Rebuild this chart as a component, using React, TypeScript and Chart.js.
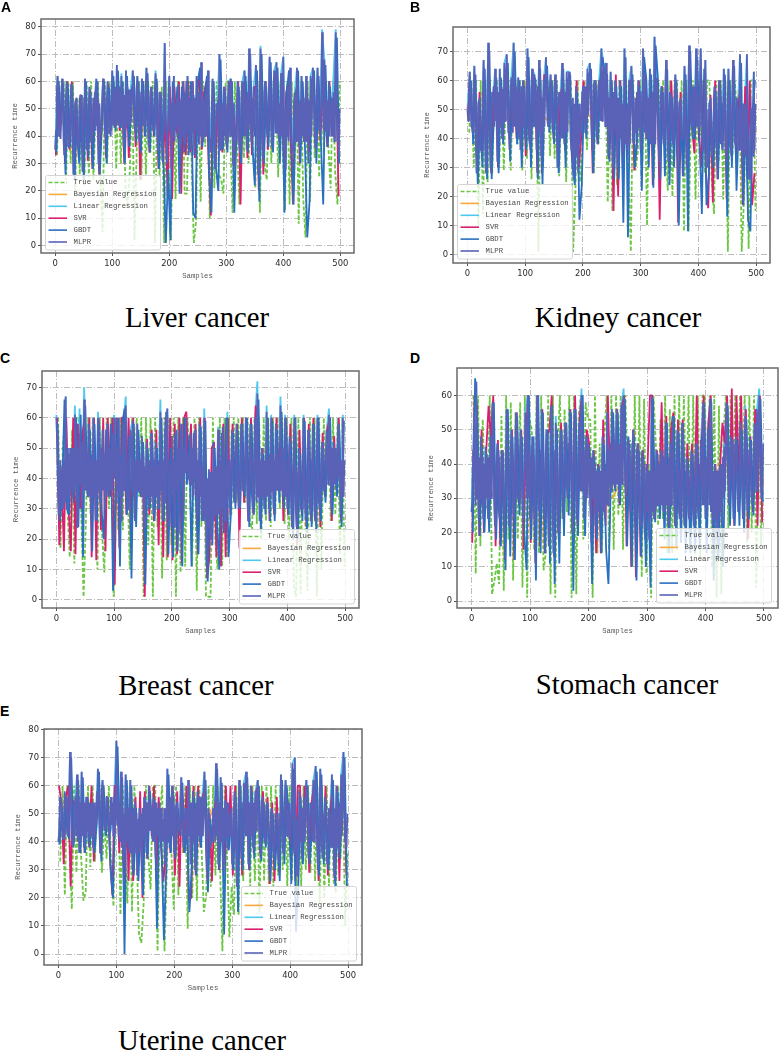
import React, { useEffect, useRef } from "react";
import { Chart, registerables } from "chart.js";

Chart.register(...registerables);

const seriesNames = ["True value", "Bayesian Regression", "Linear Regression", "SVR", "GBDT", "MLPR"];
const seriesColors = ["#6cc644", "#f7a93b", "#4fc8f0", "#db1f6f", "#2a6fc0", "#5a62b8"];
const xTicks = [0, 100, 200, 300, 400, 500];

// ---------- Liver cancer ----------
const liverTrue = [33,60,44,60,24,60,30,60,20,54,26,55,22,60,25,60,24,50,60,27,5,60,30,60,42,
60,28,60,30,60,22,14,28,60,2,36,60,24,60,26,60,34,60,1,60,25,58,1,60,26,
2,60,17,60,40,60,19,19,60,32,1,9,60,16,60,36,60,10,60,21,60,26,24,19,60,
60,40,12,60,38,15,60,32,60,30,60,34,21,60,12,60,30,24,60,30,60,60,25,60,34,
13,60,15,60,22,60,8,60,17,3,60,16,60,32,60,25,60,34,60,36,21,60,27,15,60];
const liverBayes = [44,50,42,52,44,52,46,50,44,52,44,48,46,50,44,52,44,50,44,48,44,50,44,52,44,46];
const liverLinear = [35,62,42,61,33,60,38,59,26,52,36,55,27,61,35,58,38,52,61,30,45,61,40,60,44,
64,43,66,44,63,36,64,44,57,64,42,62,38,61,44,65,36,58,42,64,34,56,31,74,30,
62,28,62,44,59,36,60,37,62,35,60,33,62,37,67,38,55,64,34,61,28,50,70,36,58,
37,60,61,30,44,60,34,60,64,35,72,38,58,66,26,73,32,60,40,69,36,64,67,40,63,
69,28,58,65,34,56,65,36,62,38,62,30,62,65,36,65,42,79,68,40,60,44,62,79,42];
const liverSvr = [33,59,42,59,30,60,35,60,26,50,32,53,30,58,31,57,28,52,60,26,44,60,32,59,43,
60,44,60,42,58,30,60,32,55,60,36,60,24,60,40,60,34,56,40,60,28,55,30,48,18,
58,17,58,41,60,19,60,33,60,34,60,32,57,62,35,56,60,30,11,58,28,50,60,34,58,
35,60,58,28,42,60,15,58,60,32,60,33,58,58,20,60,26,60,35,60,35,60,60,38,58,
30,56,60,38,15,54,60,30,60,38,58,34,60,60,36,60,38,58,60,36,60,40,54,60,18];
const liverGbdt = [34,60,45,59,26,59,36,58,24,50,30,52,24,60,32,56,28,50,60,26,44,60,30,58,42,
62,42,64,43,60,30,62,36,56,62,38,60,34,60,40,63,34,56,40,61,28,54,30,1,28,
2,60,42,58,19,58,34,60,33,60,12,10,60,65,36,54,62,26,12,60,28,20,68,35,56,
34,58,60,12,42,58,30,58,62,34,70,36,22,64,16,70,30,58,36,67,34,62,65,30,61,
12,56,64,40,15,54,64,30,60,36,3,16,60,64,30,62,38,15,66,36,58,40,54,76,30];
const liverMlpr = [35,62,42,61,33,60,38,59,26,52,36,55,27,61,35,58,38,52,61,30,45,61,40,60,44,
64,43,66,44,62,36,64,44,57,64,42,62,38,61,44,65,36,58,42,63,34,56,31,74,30,
62,28,62,44,59,36,60,37,62,35,60,33,62,37,67,38,55,64,34,61,28,50,70,36,58,
37,60,61,30,44,60,34,60,64,35,72,38,58,66,26,72,32,60,40,69,36,64,67,40,63,
69,28,58,65,34,56,65,36,62,38,62,30,62,65,36,65,42,78,68,40,60,44,56,78,42];
const liverMlprMid = [42,56,58,40,39,53,55,38,37,54,52,36,36,50,52,37,38,52,54,36,37,53,55,38,38,54,52,36,39,50,52,38,40,54,56,42,44,54,52,42,41,55,56,43,42,54,52,41,40,54,
44,56,58,44,45,57,58,44,43,56,55,43,44,58,57,44,45,56,55,44,43,57,56,45,44,56,55,44,45,57,56,43,44,55,56,45,44,57,55,44,43,56,55,42,41,54,52,41,40,54,
42,52,54,40,38,52,54,39,40,53,54,40,38,56,55,41,42,54,53,40,41,55,54,42,41,56,54,40,38,53,54,40,40,54,56,41,39,52,54,38,36,52,53,36,35,50,52,38,40,52,
38,50,52,40,40,53,52,36,38,52,53,37,38,55,54,40,40,54,56,42,44,56,54,42,40,53,54,38,38,54,55,41,42,56,58,44,44,56,58,44,44,55,54,41,41,54,52,40,40,53,
36,50,52,40,38,54,52,38,36,52,54,38,38,52,53,38,40,54,52,38,38,54,53,40,40,54,55,42,43,55,54,42,43,55,54,42,42,54,53,42,40,52,54,40,38,52,54,38,34,50];

// ---------- Kidney cancer ----------
const kidneyTrue = [42,60,30,60,10,60,14,60,25,60,28,60,60,30,60,29,60,60,29,60,60,38,60,29,60,
33,60,26,60,60,1,60,30,60,60,34,60,33,60,27,60,60,25,60,60,1,22,60,25,37,
60,36,60,60,28,60,38,60,60,60,18,60,15,60,24,60,40,60,60,26,1,60,29,35,60,
32,60,10,60,60,26,60,60,34,60,40,22,60,20,60,60,30,60,8,60,8,44,60,19,60,
41,60,28,60,60,26,14,60,32,60,19,60,1,60,34,60,48,60,1,19,60,2,60,60,15];
const kidneyBayes = [50,44,54,44,52,44,50,46,52,44,50,46,52,44,50,44,52,46,52,44,52,44,50,44,50,42];
const kidneyLinear = [50,63,44,65,28,52,36,67,28,73,30,53,64,32,64,40,66,69,42,61,73,44,61,36,60,
40,71,38,64,62,36,67,34,60,68,44,62,42,62,30,52,66,38,63,63,36,26,58,28,47,
58,42,64,66,36,60,40,60,71,65,66,34,63,30,60,30,60,36,71,36,60,65,38,42,60,
36,71,62,40,64,38,75,61,32,58,38,67,32,55,38,62,34,52,40,65,30,72,44,42,71,
45,71,36,67,30,52,34,58,36,60,42,64,32,64,36,67,38,48,69,30,52,69,26,50,63];
const kidneySvr = [50,58,42,56,30,56,34,60,30,60,28,55,60,30,60,42,58,60,36,60,60,40,60,36,60,
34,60,36,60,60,28,60,28,62,60,44,60,40,58,30,54,60,36,60,60,34,28,60,30,40,
60,44,60,60,28,60,38,60,60,60,60,33,60,15,62,20,60,30,60,34,60,60,29,37,60,
35,60,60,40,62,24,60,60,12,58,38,60,30,60,40,60,11,56,27,60,30,60,44,35,60,
40,30,60,28,16,55,18,60,26,60,38,60,19,60,34,60,34,50,60,17,58,26,60,17,28];
const kidneyGbdt = [48,60,38,62,24,50,30,64,26,70,26,50,61,28,61,38,63,66,32,60,70,38,60,30,58,
36,68,30,62,60,26,64,24,60,65,42,60,38,60,28,50,64,30,60,62,30,24,56,12,24,
56,40,62,64,28,60,38,60,68,62,62,32,60,26,58,26,58,11,68,6,58,62,30,40,58,
22,68,60,30,62,23,72,60,26,56,27,64,24,54,30,60,10,50,27,62,8,70,40,40,68,
40,14,64,17,27,50,30,56,26,58,36,62,13,60,30,65,22,46,66,17,50,12,8,50,60];
const kidneyMlpr = [50,63,44,65,28,52,36,67,28,73,30,53,64,32,64,40,66,69,42,61,73,44,61,36,60,
40,71,38,64,62,36,67,34,60,68,44,62,42,62,30,52,66,38,63,63,36,26,58,28,47,
58,42,64,66,36,60,40,60,71,65,66,34,63,30,60,30,60,36,71,36,60,65,38,42,60,
36,71,62,40,64,38,75,61,32,58,38,67,32,55,38,62,34,52,40,65,30,72,44,42,71,
45,71,36,67,30,52,34,58,36,60,42,64,32,64,36,67,38,48,69,30,52,69,26,50,63];
const kidneyMlprMid = [46,58,56,44,42,56,54,38,36,52,54,36,36,54,56,38,38,54,56,42,42,56,58,44,46,58,56,44,44,58,57,46,46,56,58,42,42,56,54,42,44,58,56,42,40,56,58,44,44,58,
40,54,56,40,42,56,58,44,44,56,58,42,42,56,54,42,44,58,56,46,46,58,56,46,46,58,57,46,46,56,54,40,40,54,56,42,42,56,54,40,38,54,52,34,34,50,52,38,42,56,
46,58,58,46,48,58,58,48,50,58,58,48,48,58,58,46,46,58,56,44,44,56,54,42,42,54,56,44,42,54,54,40,40,52,52,38,38,50,52,38,38,52,54,40,42,54,56,44,44,56,
42,56,56,42,40,54,54,40,38,54,56,40,38,52,52,40,40,54,56,42,40,54,54,42,44,56,54,40,40,54,56,42,40,52,54,40,40,52,50,38,40,54,58,46,46,58,58,46,44,56,
44,58,56,40,38,52,50,36,38,52,54,40,40,54,52,38,40,54,52,38,36,52,54,40,38,50,52,38,38,52,54,40,40,54,50,36,36,50,52,36,34,50,48,32,36,50,50,34,36,52];

// ---------- Breast cancer ----------
const breastTrue = [60,17,50,60,30,14,56,12,60,60,28,1,26,60,28,60,39,10,60,22,9,60,30,60,1,
60,23,60,23,60,40,10,60,27,60,34,60,1,60,18,60,1,60,24,60,7,60,13,60,18,
60,1,60,9,60,11,60,40,11,60,3,60,24,60,1,1,1,60,20,10,60,11,60,14,60,
28,60,32,60,36,60,32,60,26,23,60,25,60,20,60,26,60,24,60,28,60,30,60,25,60,
20,60,5,1,60,2,60,26,3,60,25,60,1,60,10,60,34,60,26,60,28,60,15,60,11];
const breastBayes = [46,36,46,36,46,38,44,38,46,36,44,38,42,36,44,38,42,36,44,36,42,36,44,38,42,38];
const breastLinear = [61,28,40,30,67,30,50,34,64,24,63,30,70,36,58,28,60,26,62,32,56,30,58,36,55,
61,32,60,26,58,67,30,56,59,26,58,35,54,24,52,30,55,28,52,30,66,26,56,63,24,
54,24,56,22,58,26,60,40,55,34,56,28,58,26,63,12,43,20,52,28,57,24,57,26,62,
30,56,32,58,30,58,36,60,26,58,30,60,72,26,50,30,64,30,61,30,58,36,67,34,61,
30,54,24,61,24,50,30,61,26,56,28,58,26,61,30,52,36,56,63,30,52,38,60,28,61];
const breastSvr = [60,18,40,16,60,30,16,60,15,58,30,55,60,36,60,14,60,13,59,23,60,16,60,34,60,
5,60,17,60,60,28,60,17,60,28,55,38,52,1,53,28,56,26,56,18,60,14,60,14,60,
13,58,15,60,12,60,62,40,58,34,58,15,60,28,60,7,14,50,52,14,56,11,58,14,60,
28,58,36,58,17,60,32,60,34,60,28,64,60,30,50,30,60,26,60,28,60,40,60,26,60,
28,58,28,60,18,56,28,60,24,58,26,60,28,60,24,55,34,56,60,26,54,36,60,26,51];
const breastGbdt = [58,26,36,66,30,28,50,32,60,24,61,14,64,34,56,16,58,26,58,30,20,56,34,58,3,
30,60,11,58,63,28,54,7,58,24,56,34,52,5,50,30,53,26,50,30,60,26,62,15,50,
14,55,16,56,11,60,38,54,11,55,30,15,57,26,59,6,42,18,50,26,10,55,22,60,14,
28,55,30,56,30,58,34,60,24,58,28,58,66,22,48,28,60,26,59,26,56,32,62,30,59,
28,52,20,60,20,48,26,59,22,54,24,58,22,60,26,50,32,54,60,28,50,34,56,24,59];
const breastMlpr = [60,28,40,30,67,30,50,34,61,24,55,30,66,36,58,28,60,26,60,32,56,30,58,36,55,
60,32,60,26,58,64,30,56,59,26,58,35,54,24,52,30,55,28,52,30,62,26,56,63,24,
54,24,56,22,58,26,60,40,55,34,56,28,58,26,60,12,43,20,52,28,56,24,57,26,60,
30,56,32,58,30,58,36,60,26,58,30,60,68,26,50,30,62,30,60,30,58,36,64,34,60,
30,54,24,60,24,50,30,60,26,56,28,58,26,60,30,52,36,56,61,30,52,38,58,28,60];
const breastMlprMid = [52,36,34,46,30,44,46,32,34,50,48,34,36,50,50,36,38,52,50,38,38,52,50,36,36,50,46,34,34,46,48,34,34,46,46,34,36,48,50,36,36,48,46,34,36,50,50,36,36,50,
40,52,50,36,34,48,46,34,36,50,50,38,38,50,50,36,34,46,44,36,36,46,46,34,36,48,44,34,34,46,46,32,34,44,46,34,34,44,46,36,36,50,46,32,32,46,46,34,34,44,
36,46,46,36,36,50,50,40,40,50,50,42,42,48,48,38,38,50,50,40,40,50,46,36,34,44,42,28,26,40,40,24,24,42,42,26,26,44,44,28,28,44,46,30,30,46,44,32,34,46,
36,46,46,36,36,46,48,34,36,48,46,36,36,46,46,34,34,44,46,34,34,46,48,32,34,46,46,34,34,46,46,34,34,46,48,34,36,48,46,36,36,48,46,36,36,50,46,34,34,46,
34,46,44,30,30,44,44,30,30,42,44,30,30,44,44,30,32,44,44,32,32,46,44,30,32,42,40,32,34,44,46,36,38,48,48,38,40,50,50,38,38,50,48,40,40,50,46,34,34,46];

// ---------- Stomach cancer ----------
const stomachTrue = [60,8,60,16,53,28,27,60,2,6,11,5,54,3,60,18,58,6,55,18,58,4,60,1,53,
50,15,60,14,60,9,14,60,2,60,1,45,60,24,56,26,60,1,60,2,54,60,18,58,53,
53,1,60,14,46,14,48,60,15,60,15,60,25,60,15,60,36,47,10,60,14,60,7,59,8,
40,1,60,46,22,53,24,60,14,56,14,60,15,60,20,60,24,60,15,60,14,60,12,60,60,
22,60,10,60,1,57,2,50,60,21,60,35,60,32,60,35,60,17,60,20,60,4,60,16,42];
const stomachBayes = [32,36,30,38,30,34,32,38,30,38,36,34,30,36,32,30,36,34,30,36,34,38,40,34,38,34];
const stomachLinear = [26,54,64,24,48,24,45,24,48,58,22,46,24,44,20,56,22,50,24,55,30,50,24,55,60,
24,48,22,60,26,56,24,50,16,57,14,54,20,50,26,52,30,56,20,56,24,52,62,24,48,
46,22,44,22,40,28,48,24,55,34,56,34,56,30,57,62,30,48,26,50,24,46,22,44,20,
38,18,60,24,44,28,44,26,52,22,46,54,22,50,24,52,22,42,24,44,22,46,24,47,58,
24,50,59,22,40,18,39,22,45,58,28,48,24,48,26,55,24,57,26,48,28,52,56,62,30];
const stomachSvr = [17,60,57,19,50,20,44,57,48,60,16,47,16,44,12,54,22,50,12,55,28,50,15,50,60,
17,46,11,60,16,56,14,48,50,60,13,50,18,52,24,52,30,56,22,60,22,54,60,26,50,
46,17,44,14,40,14,53,22,60,34,55,33,56,28,57,60,16,46,10,50,7,46,13,44,18,
40,60,60,26,44,30,58,26,54,23,50,55,22,53,26,53,24,46,27,46,26,60,26,44,60,
24,52,60,20,40,24,40,52,46,60,28,62,22,60,36,60,26,56,18,48,26,56,22,60,23];
const stomachGbdt = [20,65,52,19,45,20,43,20,46,58,18,44,16,43,9,56,13,48,12,54,25,48,20,9,60,
18,48,6,60,14,55,14,50,11,57,5,50,11,50,19,52,25,55,3,56,19,52,60,19,46,
44,5,42,18,39,14,46,15,5,34,55,32,55,28,56,59,16,46,10,48,6,44,13,42,10,
36,4,59,23,43,24,43,18,52,14,45,54,16,49,17,50,14,41,14,43,14,45,15,46,57,
14,49,58,6,38,12,38,10,44,57,22,47,22,47,22,50,20,53,24,47,25,50,54,59,29];
const stomachMlpr = [26,54,64,24,48,24,45,24,48,58,22,46,24,44,20,56,22,50,24,55,30,50,24,55,60,
24,48,22,60,26,56,24,50,16,57,14,52,20,50,26,52,30,56,20,56,24,52,60,24,48,
46,22,44,22,40,28,48,24,55,34,56,34,56,30,57,60,30,48,26,50,24,46,22,44,20,
38,18,60,24,44,28,44,26,52,22,46,54,22,50,24,52,22,42,24,44,22,46,24,47,58,
24,50,59,22,40,18,39,22,45,58,28,48,24,48,26,52,24,54,26,48,28,52,56,60,30];
const stomachMlprMid = [30,44,42,28,30,44,42,30,28,42,40,28,30,42,42,30,30,40,42,28,28,40,42,26,28,42,42,30,30,42,40,30,30,42,42,30,30,44,42,30,30,42,42,30,28,42,44,30,30,44,
30,42,42,28,28,42,42,28,28,44,42,28,26,42,40,26,26,42,40,26,28,44,42,30,30,44,42,32,32,46,44,34,34,46,44,34,34,46,44,32,32,44,44,32,32,44,42,30,30,42,
30,42,42,30,28,40,38,26,26,38,38,24,26,38,40,28,28,44,46,32,34,46,46,34,34,46,46,34,34,46,46,34,34,46,44,32,32,46,44,32,32,44,42,30,28,42,40,28,26,40,
26,38,38,24,26,38,38,26,28,40,40,28,28,42,42,26,28,40,42,28,28,40,38,26,26,40,38,26,26,38,38,26,26,38,38,26,26,38,38,26,26,40,40,28,28,40,40,28,28,42,
28,42,42,28,26,40,38,24,26,38,38,24,26,40,42,30,32,44,46,34,34,46,46,34,34,46,44,34,34,46,44,32,32,44,46,32,32,44,44,32,32,44,44,32,32,46,46,34,34,46];

// ---------- Uterine cancer ----------
const uterineTrue = [33,60,21,60,38,16,60,29,60,35,19,22,60,31,60,33,60,60,29,47,34,60,30,17,60,
60,14,60,36,18,60,15,60,36,7,4,18,60,35,23,60,60,1,50,60,1,30,60,36,16,
60,21,60,36,60,9,60,20,60,19,60,38,15,21,60,24,60,28,60,30,1,60,36,6,24,
14,60,14,60,26,60,60,24,60,26,60,15,60,26,60,25,60,24,60,28,60,30,60,24,60,
26,60,22,60,24,60,30,60,29,60,26,60,18,60,20,60,24,60,26,22,60,34,60,10,36];
const uterineBayes = [46,52,46,54,44,50,46,48,44,52,44,50,44,52,44,52,46,50,44,52,48,44,52,44,50,44];
const uterineLinear = [40,54,41,56,42,72,39,52,64,36,65,38,56,40,54,38,48,66,36,62,44,56,42,46,56,
76,42,65,32,64,40,62,30,54,28,52,30,56,36,60,44,56,34,52,40,48,32,66,38,60,
36,54,44,63,38,48,62,32,58,30,58,40,56,65,30,50,42,46,68,32,63,30,55,38,50,
32,58,24,62,34,61,65,32,60,38,58,62,36,56,40,54,30,52,34,50,32,64,36,62,50,
40,68,70,28,58,34,56,62,34,50,62,67,30,66,34,56,32,48,64,28,60,36,64,72,42];
const uterineSvr = [60,54,32,56,60,24,55,52,60,36,60,36,56,38,60,33,50,60,38,60,44,56,34,21,60,
60,36,60,24,60,26,60,26,56,28,58,20,58,34,60,42,60,26,56,38,26,34,60,36,60,
28,58,24,60,36,60,19,20,60,28,60,38,56,60,26,50,26,50,60,30,60,28,60,37,60,
28,60,24,60,28,60,60,30,60,36,58,60,34,58,40,56,25,54,26,56,29,60,36,60,50,
34,60,26,60,60,36,60,53,29,54,60,54,26,60,34,60,28,50,60,26,60,26,60,60,28];
const uterineGbdt = [39,52,41,55,41,70,38,50,62,36,63,36,54,38,52,36,46,65,33,60,42,54,30,20,54,
74,40,63,0,62,38,60,28,52,26,50,21,55,34,58,42,55,9,50,38,5,30,64,36,58,
34,52,42,61,36,46,15,30,56,28,56,38,54,62,22,48,40,44,66,30,61,7,54,37,48,
30,56,15,60,30,60,63,30,58,34,56,60,33,54,38,52,26,50,30,48,26,62,32,60,48,
25,66,8,24,56,32,54,60,32,48,60,65,28,64,32,54,30,46,62,24,58,34,62,70,24];
const uterineMlpr = [40,54,41,56,42,72,39,52,64,36,65,38,56,40,54,38,48,66,36,62,44,56,42,46,56,
76,42,65,32,64,40,62,30,54,28,52,30,56,36,60,44,56,34,52,40,48,32,66,38,60,
36,54,44,63,38,48,62,32,58,30,58,40,56,65,30,50,42,46,68,32,63,30,55,38,50,
32,58,24,62,34,61,65,32,60,38,58,62,36,56,40,54,30,52,34,50,32,64,36,62,50,
40,68,70,28,58,34,56,62,34,50,62,67,30,66,34,56,32,48,64,28,60,36,64,72,42];
const uterineMlprMid = [44,56,54,44,46,58,56,44,42,54,56,42,40,54,56,42,40,56,54,40,42,54,54,42,44,56,54,42,42,54,54,44,46,58,56,46,46,58,56,46,46,56,54,44,44,56,54,42,42,54,
46,58,54,40,38,52,50,36,38,52,50,36,36,50,52,36,38,50,48,36,38,50,52,40,42,54,54,44,44,54,52,40,40,54,54,42,42,54,52,40,40,52,52,38,40,54,56,42,42,56,
40,52,54,44,44,54,54,42,42,52,52,40,42,54,54,40,40,52,54,42,42,54,56,42,42,54,50,38,40,52,50,38,40,52,52,40,42,54,54,40,40,52,52,40,42,54,54,42,42,52,
38,50,52,38,38,50,52,40,42,54,54,42,42,54,54,42,42,54,54,44,44,56,54,42,42,54,54,42,40,52,52,40,40,50,50,38,38,50,50,38,38,50,52,40,42,54,54,42,42,54,
40,52,50,36,36,48,50,38,40,52,52,40,40,52,52,40,42,54,54,40,40,52,52,38,38,50,50,38,38,50,52,40,40,52,50,38,38,50,52,38,38,52,54,40,42,54,54,40,38,50];

const panels = [
  { letter: "A", letterX: 1, letterY: 12, title: "Liver cancer", titleX: 197, titleY: 327,
    box: [41, 19, 354, 253], yRange: [-2.7, 82.8], yTicks: [0,10,20,30,40,50,60,70,80],
    labelX: 16, labelY: 275, showX: true, legend: [45, 175], mid: liverMlprMid,
    values: [liverTrue, liverBayes, liverLinear, liverSvr, liverGbdt, liverMlpr] },
  { letter: "B", letterX: 410, letterY: 12, title: "Kidney cancer", titleX: 618, titleY: 327,
    box: [453, 27, 770, 263], yRange: [-2.9, 78.4], yTicks: [0,10,20,30,40,50,60,70],
    labelX: 428, labelY: 285, showX: false, legend: [457, 184], mid: kidneyMlprMid,
    values: [kidneyTrue, kidneyBayes, kidneyLinear, kidneySvr, kidneyGbdt, kidneyMlpr] },
  { letter: "C", letterX: 0, letterY: 363, title: "Breast cancer", titleX: 196, titleY: 695,
    box: [42, 371, 359, 608], yRange: [-2.7, 75.4], yTicks: [0,10,20,30,40,50,60,70],
    labelX: 17, labelY: 630, showX: true, legend: [239, 529], mid: breastMlprMid,
    values: [breastTrue, breastBayes, breastLinear, breastSvr, breastGbdt, breastMlpr] },
  { letter: "D", letterX: 410, letterY: 363, title: "Stomach cancer", titleX: 627, titleY: 694,
    box: [457, 368, 778, 608], yRange: [-2, 68], yTicks: [0,10,20,30,40,50,60],
    labelX: 432, labelY: 630, showX: true, legend: [656, 528], mid: stomachMlprMid,
    values: [stomachTrue, stomachBayes, stomachLinear, stomachSvr, stomachGbdt, stomachMlpr] },
  { letter: "E", letterX: 0, letterY: 716, title: "Uterine cancer", titleX: 202, titleY: 1050,
    box: [44, 729, 362, 965], yRange: [-3.9, 80.2], yTicks: [0,10,20,30,40,50,60,70,80],
    labelX: 19, labelY: 987, showX: true, legend: [241, 886], mid: uterineMlprMid,
    values: [uterineTrue, uterineBayes, uterineLinear, uterineSvr, uterineGbdt, uterineMlpr] },
];

// Horizontal step and start of the samples held in each series array.
const sampleStep = [4, 20, 4, 4, 4, 4];
const sampleStart = [3, 0, 0, 1, 2, 0];
const drawOrder = [6, 5, 4, 3, 2, 1];
const seriesWidth = [1.8, 1.6, 1.8, 1.8, 1.8, 1.8];

function seriesPoints(vals: number[], s: number, mid: number[]) {
  const pts: { x: number; y: number }[] = [];
  vals.forEach((y, i) => {
    const x = sampleStart[s] + i * sampleStep[s];
    pts.push({ x, y });
    // MLPR also holds the two in-between samples of the dense middle band
    if (s === 5 && mid[2 * i] !== undefined) {
      pts.push({ x: x + 1.33, y: mid[2 * i] });
      pts.push({ x: x + 2.67, y: mid[2 * i + 1] });
    }
  });
  return pts;
}

const boxPlugin = {
  id: "panelFrame",
  afterDraw(chart: any, _args: any, opts: any) {
    const { ctx, chartArea: a } = chart;
    ctx.save();
    // legend
    const lx = opts.legend[0] - opts.originX;
    const ly = opts.legend[1] - opts.originY;
    const w = 115, h = 74.5;
    ctx.beginPath();
    ctx.roundRect(lx + 0.5, ly + 0.5, w, h, 2);
    ctx.fillStyle = "rgba(255,255,255,0.8)";
    ctx.fill();
    ctx.strokeStyle = "#d4d4d4";
    ctx.lineWidth = 1;
    ctx.stroke();
    ctx.font = '7.3px "Liberation Mono"';
    ctx.textBaseline = "middle";
    chart.data.datasets.forEach((d: any, i: number) => {
      const y = ly + 7.5 + i * 11.9;
      ctx.beginPath();
      ctx.setLineDash(d.borderDash || []);
      ctx.strokeStyle = d.borderColor;
      ctx.lineWidth = 1.6;
      ctx.moveTo(lx + 3.5, y);
      ctx.lineTo(lx + 22, y);
      ctx.stroke();
      ctx.setLineDash([]);
      ctx.fillStyle = "#4a4a4a";
      ctx.fillText(d.label, lx + 28.5, y);
    });
    // frame
    ctx.strokeStyle = "#6a6a6a";
    ctx.lineWidth = 1.5;
    ctx.strokeRect(a.left, a.top, a.right - a.left, a.bottom - a.top);
    ctx.restore();
  },
};

function Panel({ p }: { p: (typeof panels)[number] }) {
  const ref = useRef<HTMLCanvasElement | null>(null);
  const [L, T, R, B] = p.box;
  const originX = Math.floor(p.labelX - 4.4);
  const originY = T - 8;
  const width = R + 4 - originX;
  const height = p.labelY + 5 - originY;

  useEffect(() => {
    const chart = new Chart(ref.current as HTMLCanvasElement, {
      type: "line",
      data: {
        datasets: p.values.map((vals, s) => ({
          label: seriesNames[s],
          data: seriesPoints(vals, s, p.mid),
          borderColor: seriesColors[s],
          borderWidth: seriesWidth[s],
          borderDash: s === 0 ? [4, 2] : [],
          borderJoinStyle: "bevel",
          pointRadius: 0,
          tension: 0,
          order: drawOrder[s],
        })),
      },
      options: {
        animation: false,
        responsive: false,
        devicePixelRatio: 1,
        layout: { padding: { top: 8, right: 4, left: 0, bottom: 0 } },
        plugins: { legend: { display: false }, tooltip: { enabled: false },
          panelFrame: { legend: p.legend, originX, originY } } as any,
        scales: {
          x: {
            type: "linear",
            min: -25,
            max: 524,
            afterFit: (s: any) => { s.height = height - (B - originY); },
            afterBuildTicks: (s: any) => { s.ticks = xTicks.map((value) => ({ value })); },
            grid: { color: "#bdbdbd", lineWidth: 1, tickColor: "#555", tickLength: 3, tickBorderDash: [] },
            border: { display: false, dash: [6, 2, 1, 2] },
            ticks: { autoSkip: false, maxRotation: 0, padding: 3, color: "#2a2a2a",
              font: { family: "DejaVu Sans", size: 8.4 } },
            title: { display: p.showX, text: "Samples", color: "#5a5a5a", padding: 0,
              font: { family: "Liberation Mono", size: 7.3 } },
          },
          y: {
            type: "linear",
            min: p.yRange[0],
            max: p.yRange[1],
            afterFit: (s: any) => { s.width = L - originX; },
            afterBuildTicks: (s: any) => { s.ticks = p.yTicks.map((value) => ({ value })); },
            grid: { color: "#bdbdbd", lineWidth: 1, tickColor: "#555", tickLength: 3, tickBorderDash: [] },
            border: { display: false, dash: [6, 2, 1, 2] },
            ticks: { autoSkip: false, padding: 2, color: "#2a2a2a",
              font: { family: "DejaVu Sans", size: 8.4 } },
            title: { display: true, text: "Recurrence time", color: "#5a5a5a", padding: 0,
              font: { family: "Liberation Mono", size: 7.3 } },
          },
        },
      } as any,
      plugins: [boxPlugin],
    });
    return () => chart.destroy();
  }, []);

  return (
    <canvas
      ref={ref}
      width={width}
      height={height}
      style={{ position: "absolute", left: originX, top: originY, width, height, filter: "blur(0.3px)" }}
    />
  );
}

export default function App() {
  return (
    <div style={{ position: "absolute", left: 0, top: 0, width: 780, height: 1052, overflow: "hidden", background: "#fff" }}>
      {panels.map((p) => (
        <React.Fragment key={p.letter}>
          <Panel p={p} />
          <div style={{ position: "absolute", left: p.letterX, top: p.letterY - 12, font: 'bold 14px/14px "Liberation Sans"', color: "#000" }}>{p.letter}</div>
          <div style={{ position: "absolute", left: p.titleX - 150, width: 300, top: p.titleY - 24, textAlign: "center", font: '28.7px/28.7px "Liberation Serif"', color: "#000" }}>{p.title}</div>
        </React.Fragment>
      ))}
    </div>
  );
}
